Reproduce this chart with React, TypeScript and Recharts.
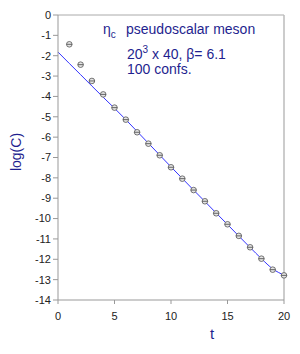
import {
  ComposedChart,
  Line,
  Scatter,
  XAxis,
  YAxis,
  ReferenceLine,
} from "recharts";

// time slices with measured log correlator
const tObs = [1, 2, 3, 4, 5, 6, 7, 8, 9, 10, 11, 12, 13, 14, 15, 16, 17, 18, 19, 20];
const logC = [
  -1.44, -2.44, -3.24, -3.9, -4.55, -5.14, -5.76, -6.32, -6.89, -7.48,
  -8.04, -8.6, -9.15, -9.74, -10.28, -10.85, -11.41, -11.97, -12.51, -12.79,
];

// fitted curve
const tFit = [0, 1, 2, 3, 4, 5, 6, 7, 8, 9, 10, 11, 12, 13, 14, 15, 16, 17, 18, 19, 20];
const fitVals = [
  -1.82, -2.38, -2.93, -3.49, -4.04, -4.58, -5.14, -5.72, -6.3, -6.88, -7.46,
  -8.03, -8.6, -9.16, -9.73, -10.29, -10.86, -11.42, -11.97, -12.47, -12.78,
];

const xTicks = [0, 5, 10, 15, 20];
const yTicks = [0, -1, -2, -3, -4, -5, -6, -7, -8, -9, -10, -11, -12, -13, -14];

const obsData = tObs.map((t, i) => ({ t, logC: logC[i] }));
const fitData = tFit.map((t, i) => ({ t, fit: fitVals[i] }));

const NAVY = "#1f1f8f";

function Marker(props: any) {
  const { cx, cy } = props;
  if (cx == null || cy == null) return null;
  return (
    <g>
      <circle cx={cx} cy={cy} r={2.8} fill="#e4e4e4" stroke="#555" strokeWidth={0.8} />
      <line x1={cx - 2.8} x2={cx + 2.8} y1={cy} y2={cy} stroke="#444" strokeWidth={0.8} />
    </g>
  );
}

export default function App() {
  const tickStyle = { fontSize: 11, fill: "#222", fontFamily: "Liberation Sans, Arial, sans-serif" };
  return (
    <div style={{ position: "absolute", left: 0, top: 0, width: 300, height: 354, background: "#fff" }}>
      <ComposedChart
        width={300}
        height={354}
        margin={{ top: 15, right: 16, left: 0, bottom: 0 }}
      >
        <XAxis
          dataKey="t"
          type="number"
          domain={[0, 20]}
          ticks={xTicks}
          tick={tickStyle}
          tickSize={4}
          tickMargin={8}
          height={54}
          stroke="#999"
          allowDuplicatedCategory={false}
        />
        <YAxis
          type="number"
          domain={[-14, 0]}
          ticks={yTicks}
          tick={tickStyle}
          tickSize={5}
          tickMargin={2}
          width={58}
          stroke="#999"
          interval={0}
        />
        <ReferenceLine y={0} stroke="#aaa" strokeWidth={1} />
        <ReferenceLine x={20} stroke="#bbb" strokeWidth={1.5} />
        <Line
          data={fitData}
          dataKey="fit"
          type="monotone"
          stroke="#3333ff"
          strokeWidth={1}
          dot={false}
          activeDot={false}
          isAnimationActive={false}
        />
        <Scatter
          data={obsData}
          dataKey="logC"
          shape={<Marker />}
          isAnimationActive={false}
        />
      </ComposedChart>
      <svg
        width={300}
        height={354}
        style={{ position: "absolute", left: 0, top: 0, pointerEvents: "none" }}
        fontFamily="Liberation Sans, Arial, sans-serif"
      >
        <text x={103} y={34} fontSize={14} fill={NAVY}>
          η<tspan fontSize={10} dy={4}>c</tspan>
          <tspan x={126} dy={-4}>pseudoscalar meson</tspan>
        </text>
        <text x={127} y={59} fontSize={14} fill={NAVY}>
          20<tspan fontSize={10} dy={-6}>3</tspan>
          <tspan dy={6}> x 40, β= 6.1</tspan>
        </text>
        <text x={127} y={74} fontSize={14} fill={NAVY}>
          100 confs.
        </text>
        <text
          x={21}
          y={152}
          fontSize={14}
          fill={NAVY}
          textAnchor="middle"
          transform="rotate(-90, 21, 152)"
        >
          log(C)
        </text>
        <text x={212} y={339} fontSize={15} fill={NAVY} textAnchor="middle">
          t
        </text>
      </svg>
    </div>
  );
}
